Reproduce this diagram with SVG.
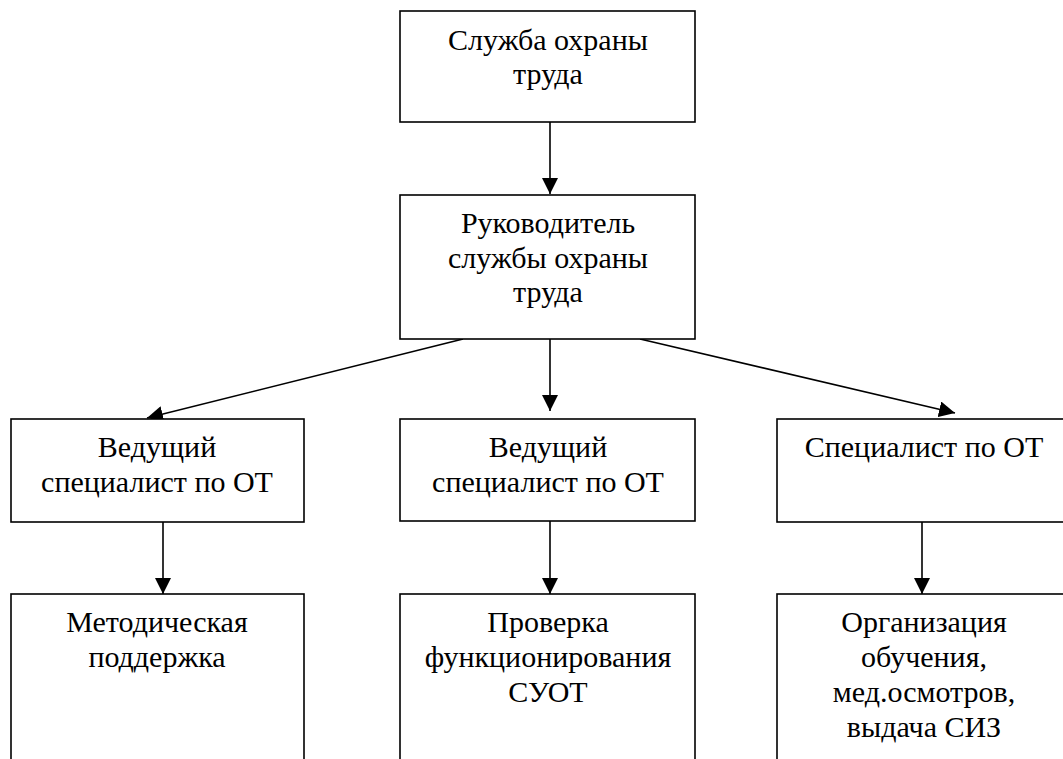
<svg xmlns="http://www.w3.org/2000/svg" width="1063" height="759" viewBox="0 0 1063 759">
<defs>
<marker id="ah" markerUnits="userSpaceOnUse" markerWidth="16" markerHeight="16" viewBox="0 0 16 16" refX="16" refY="8" orient="auto">
<path d="M0,0 L16,8 L0,16 Z" fill="#000"/>
</marker>
</defs>
<rect width="1063" height="759" fill="#fff"/>
<g id="connectors" stroke="#000" stroke-width="1.6" fill="none" marker-end="url(#ah)">
<line x1="550" y1="122" x2="550" y2="194"/>
<line x1="550" y1="339" x2="550" y2="411"/>
<line x1="463" y1="339" x2="147" y2="418"/>
<line x1="640" y1="339" x2="955" y2="413"/>
<line x1="163" y1="522" x2="163" y2="594"/>
<line x1="550" y1="521" x2="550" y2="594"/>
<line x1="922" y1="522" x2="922" y2="594"/>
</g>
<g id="n1">
<rect x="400" y="11" width="295" height="111" fill="#fff" stroke="#000" stroke-width="1.6"/>
<text x="548" y="50" font-family="Times New Roman, Tinos, Liberation Serif, serif" font-size="30" text-anchor="middle">Служба охраны</text>
<text x="548" y="84" font-family="Times New Roman, Tinos, Liberation Serif, serif" font-size="30" text-anchor="middle">труда</text>
</g>
<g id="n2">
<rect x="400" y="195" width="295" height="144" fill="#fff" stroke="#000" stroke-width="1.6"/>
<text x="548" y="233" font-family="Times New Roman, Tinos, Liberation Serif, serif" font-size="30" text-anchor="middle">Руководитель</text>
<text x="548" y="268" font-family="Times New Roman, Tinos, Liberation Serif, serif" font-size="30" text-anchor="middle">службы охраны</text>
<text x="548" y="302" font-family="Times New Roman, Tinos, Liberation Serif, serif" font-size="30" text-anchor="middle">труда</text>
</g>
<g id="n3">
<rect x="11" y="419" width="293" height="103" fill="#fff" stroke="#000" stroke-width="1.6"/>
<text x="157" y="457" font-family="Times New Roman, Tinos, Liberation Serif, serif" font-size="30" text-anchor="middle">Ведущий</text>
<text x="157" y="492" font-family="Times New Roman, Tinos, Liberation Serif, serif" font-size="30" text-anchor="middle">специалист по ОТ</text>
</g>
<g id="n4">
<rect x="400" y="419" width="295" height="102" fill="#fff" stroke="#000" stroke-width="1.6"/>
<text x="548" y="457" font-family="Times New Roman, Tinos, Liberation Serif, serif" font-size="30" text-anchor="middle">Ведущий</text>
<text x="548" y="492" font-family="Times New Roman, Tinos, Liberation Serif, serif" font-size="30" text-anchor="middle">специалист по ОТ</text>
</g>
<g id="n5">
<rect x="777" y="419" width="294" height="103" fill="#fff" stroke="#000" stroke-width="1.6"/>
<text x="924" y="457" font-family="Times New Roman, Tinos, Liberation Serif, serif" font-size="30" text-anchor="middle">Специалист по ОТ</text>
</g>
<g id="n6">
<rect x="11" y="594" width="293" height="180" fill="#fff" stroke="#000" stroke-width="1.6"/>
<text x="157" y="632" font-family="Times New Roman, Tinos, Liberation Serif, serif" font-size="30" text-anchor="middle">Методическая</text>
<text x="157" y="667" font-family="Times New Roman, Tinos, Liberation Serif, serif" font-size="30" text-anchor="middle">поддержка</text>
</g>
<g id="n7">
<rect x="400" y="594" width="295" height="180" fill="#fff" stroke="#000" stroke-width="1.6"/>
<text x="548" y="632" font-family="Times New Roman, Tinos, Liberation Serif, serif" font-size="30" text-anchor="middle">Проверка</text>
<text x="548" y="667" font-family="Times New Roman, Tinos, Liberation Serif, serif" font-size="30" text-anchor="middle">функционирования</text>
<text x="548" y="702" font-family="Times New Roman, Tinos, Liberation Serif, serif" font-size="30" text-anchor="middle">СУОТ</text>
</g>
<g id="n8">
<rect x="777" y="594" width="294" height="180" fill="#fff" stroke="#000" stroke-width="1.6"/>
<text x="924" y="632" font-family="Times New Roman, Tinos, Liberation Serif, serif" font-size="30" text-anchor="middle">Организация</text>
<text x="924" y="667" font-family="Times New Roman, Tinos, Liberation Serif, serif" font-size="30" text-anchor="middle">обучения,</text>
<text x="924" y="702" font-family="Times New Roman, Tinos, Liberation Serif, serif" font-size="30" text-anchor="middle">мед.осмотров,</text>
<text x="924" y="737" font-family="Times New Roman, Tinos, Liberation Serif, serif" font-size="30" text-anchor="middle">выдача СИЗ</text>
</g>
</svg>
